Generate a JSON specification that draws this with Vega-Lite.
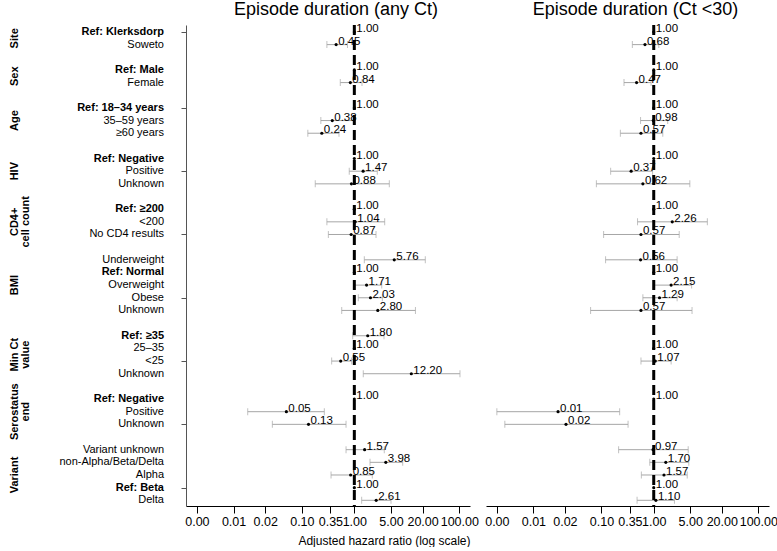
{
  "$schema": "https://vega.github.io/schema/vega-lite/v6.json",
  "padding": 0,
  "background": "white",
  "spacing": 16,
  "bounds": "flush",
  "config": {
    "view": {"stroke": null},
    "font": "Liberation Sans",
    "title": {"font": "Liberation Sans", "fontSize": 18, "fontWeight": "normal", "offset": 4, "dx": 8, "color": "black"},
    "axis": {"labelFont": "Liberation Sans", "labelFontSize": 12.5, "labelColor": "black", "domainColor": "black", "tickColor": "black", "grid": false, "titleFont": "Liberation Sans", "titleFontWeight": "normal", "titleColor": "black", "titleFontSize": 12, "labelOverlap": false, "labelBound": false, "labelFlush": false}
  },
  "data": {"values": [
    {"row": 0, "group": "Site", "label": "Ref: Klerksdorp", "hr1": 1, "lo1": null, "hi1": null, "hr2": 1, "lo2": null, "hi2": null},
    {"row": 1, "group": "Site", "label": "Soweto", "hr1": 0.45, "lo1": 0.30, "hi1": 0.74, "hr2": 0.68, "lo2": 0.39, "hi2": 1.25},
    {"row": 3, "group": "Sex", "label": "Ref: Male", "hr1": 1, "lo1": null, "hi1": null, "hr2": 1, "lo2": null, "hi2": null},
    {"row": 4, "group": "Sex", "label": "Female", "hr1": 0.84, "lo1": 0.54, "hi1": 1.40, "hr2": 0.47, "lo2": 0.27, "hi2": 0.89},
    {"row": 6, "group": "Age", "label": "Ref: 18–34 years", "hr1": 1, "lo1": null, "hi1": null, "hr2": 1, "lo2": null, "hi2": null},
    {"row": 7, "group": "Age", "label": "35–59 years", "hr1": 0.38, "lo1": 0.23, "hi1": 0.96, "hr2": 0.98, "lo2": 0.56, "hi2": 1.85},
    {"row": 8, "group": "Age", "label": "≥60 years", "hr1": 0.24, "lo1": 0.13, "hi1": 0.51, "hr2": 0.57, "lo2": 0.23, "hi2": 1.49},
    {"row": 10, "group": "HIV", "label": "Ref: Negative", "hr1": 1, "lo1": null, "hi1": null, "hr2": 1, "lo2": null, "hi2": null},
    {"row": 11, "group": "HIV", "label": "Positive", "hr1": 1.47, "lo1": 0.80, "hi1": 2.74, "hr2": 0.37, "lo2": 0.15, "hi2": 0.95},
    {"row": 12, "group": "HIV", "label": "Unknown", "hr1": 0.88, "lo1": 0.18, "hi1": 4.64, "hr2": 0.62, "lo2": 0.08, "hi2": 4.9},
    {"row": 14, "group": "CD4+\ncell count", "label": "Ref: ≥200", "hr1": 1, "lo1": null, "hi1": null, "hr2": 1, "lo2": null, "hi2": null},
    {"row": 15, "group": "CD4+\ncell count", "label": "<200", "hr1": 1.04, "lo1": 0.30, "hi1": 3.79, "hr2": 2.26, "lo2": 0.49, "hi2": 10.6},
    {"row": 16, "group": "CD4+\ncell count", "label": "No CD4 results", "hr1": 0.87, "lo1": 0.32, "hi1": 2.59, "hr2": 0.57, "lo2": 0.11, "hi2": 3.07},
    {"row": 18, "group": "BMI", "label": "Underweight", "hr1": 5.76, "lo1": 1.55, "hi1": 22.5, "hr2": 0.56, "lo2": 0.12, "hi2": 2.8},
    {"row": 19, "group": "BMI", "label": "Ref: Normal", "hr1": 1, "lo1": null, "hi1": null, "hr2": 1, "lo2": null, "hi2": null},
    {"row": 20, "group": "BMI", "label": "Overweight", "hr1": 1.71, "lo1": 1.0, "hi1": 3.33, "hr2": 2.15, "lo2": 1.04, "hi2": 5.3},
    {"row": 21, "group": "BMI", "label": "Obese", "hr1": 2.03, "lo1": 1.19, "hi1": 3.42, "hr2": 1.29, "lo2": 0.62, "hi2": 2.8},
    {"row": 22, "group": "BMI", "label": "Unknown", "hr1": 2.80, "lo1": 0.575, "hi1": 14.6, "hr2": 0.57, "lo2": 0.062, "hi2": 5.4},
    {"row": 24, "group": "Min Ct\nvalue", "label": "Ref: ≥35", "hr1": 1.80, "lo1": 0.93, "hi1": 3.68, "hr2": null, "lo2": null, "hi2": null},
    {"row": 25, "group": "Min Ct\nvalue", "label": "25–35", "hr1": 1, "lo1": null, "hi1": null, "hr2": 1, "lo2": null, "hi2": null},
    {"row": 26, "group": "Min Ct\nvalue", "label": "<25", "hr1": 0.55, "lo1": 0.37, "hi1": 0.89, "hr2": 1.07, "lo2": 0.57, "hi2": 2.15},
    {"row": 27, "group": "Min Ct\nvalue", "label": "Unknown", "hr1": 12.2, "lo1": 1.48, "hi1": 103, "hr2": null, "lo2": null, "hi2": null},
    {"row": 29, "group": "Serostatus\nend", "label": "Ref: Negative", "hr1": 1, "lo1": null, "hi1": null, "hr2": 1, "lo2": null, "hi2": null},
    {"row": 30, "group": "Serostatus\nend", "label": "Positive", "hr1": 0.0507, "lo1": 0.0093, "hi1": 0.268, "hr2": 0.0148, "lo2": 0.001, "hi2": 0.223},
    {"row": 31, "group": "Serostatus\nend", "label": "Unknown", "hr1": 0.134, "lo1": 0.0274, "hi1": 0.695, "hr2": 0.021, "lo2": 0.00142, "hi2": 0.323},
    {"row": 33, "group": "Variant", "label": "Variant unknown", "hr1": 1.57, "lo1": 0.695, "hi1": 3.72, "hr2": 0.97, "lo2": 0.213, "hi2": 4.56},
    {"row": 34, "group": "Variant", "label": "non-Alpha/Beta/Delta", "hr1": 3.98, "lo1": 1.99, "hi1": 8.35, "hr2": 1.70, "lo2": 0.84, "hi2": 4.68},
    {"row": 35, "group": "Variant", "label": "Alpha", "hr1": 0.85, "lo1": 0.36, "hi1": 2.2, "hr2": 1.57, "lo2": 0.58, "hi2": 4.37},
    {"row": 36, "group": "Variant", "label": "Ref: Beta", "hr1": 1, "lo1": null, "hi1": null, "hr2": 1, "lo2": null, "hi2": null},
    {"row": 37, "group": "Variant", "label": "Delta", "hr1": 2.61, "lo1": 1.38, "hi1": 5.0, "hr2": 1.10, "lo2": 0.48, "hi2": 2.49}
  ]},
  "hconcat": [
    {
      "width": 170,
      "height": 481,
      "layer": [
        {
          "transform": [{"aggregate": [{"op": "mean", "field": "row", "as": "mid"}], "groupby": ["group"]}],
          "mark": {"type": "text", "angle": 270, "fontWeight": "bold", "fontSize": 11, "align": "center", "baseline": "middle", "lineBreak": "\n", "lineHeight": 11, "color": "black"},
          "encoding": {
            "x": {"datum": 14.5, "type": "quantitative", "scale": {"domain": [0, 170], "nice": false, "zero": false}, "axis": null},
            "y": {"field": "mid", "type": "quantitative", "scale": {"domain": [-0.55, 37.45], "reverse": true, "nice": false, "zero": false}, "axis": null},
            "text": {"field": "group"}
          }
        },
        {
          "transform": [{"filter": "indexof(datum.label, 'Ref:') === 0"}],
          "mark": {"type": "text", "align": "right", "baseline": "middle", "fontSize": 11, "fontWeight": "bold", "color": "black"},
          "encoding": {
            "x": {"datum": 164, "type": "quantitative", "scale": {"domain": [0, 170], "nice": false, "zero": false}, "axis": null},
            "y": {"field": "row", "type": "quantitative", "scale": {"domain": [-0.55, 37.45], "reverse": true, "nice": false, "zero": false}, "axis": null},
            "text": {"field": "label"}
          }
        },
        {
          "transform": [{"filter": "indexof(datum.label, 'Ref:') !== 0"}],
          "mark": {"type": "text", "align": "right", "baseline": "middle", "fontSize": 11, "fontWeight": "normal", "color": "black"},
          "encoding": {
            "x": {"datum": 164, "type": "quantitative", "scale": {"domain": [0, 170], "nice": false, "zero": false}, "axis": null},
            "y": {"field": "row", "type": "quantitative", "scale": {"domain": [-0.55, 37.45], "reverse": true, "nice": false, "zero": false}, "axis": null},
            "text": {"field": "label"}
          }
        }
      ]
    },
    {
      "width": 284,
      "height": 481,
      "title": {"text": "Episode duration (any Ct)"},
      "layer": [
        {
          "mark": {"type": "rule", "color": "#a6a6a6", "strokeWidth": 1},
          "encoding": {
            "x": {"field": "lo1", "type": "quantitative", "scale": {"type": "log", "domain": [0.00062, 160], "nice": false, "zero": false},
                  "axis": {"values": [0.001, 0.005, 0.02, 0.1, 0.35, 1, 5, 20, 100], "format": ".2f", "tickSize": 7, "labelPadding": 2, "title": "Adjusted hazard ratio (log scale)", "titleAnchor": "end", "titlePadding": 8}},
            "x2": {"field": "hi1"},
            "y": {"field": "row", "type": "quantitative", "scale": {"domain": [-0.55, 37.45], "reverse": true, "nice": false, "zero": false},
                  "axis": {"values": [0, 1, 3, 4, 6, 7, 8, 10, 11, 12, 14, 15, 16, 18, 19, 20, 21, 22, 24, 25, 26, 27, 29, 30, 31, 33, 34, 35, 36, 37], "labels": false, "tickSize": 5, "title": null, "domainColor": "#555555", "tickColor": "#555555"}}
          }
        },
        {
          "mark": {"type": "tick", "orient": "vertical", "color": "#a6a6a6", "size": 7, "thickness": 1},
          "encoding": {
            "x": {"field": "lo1", "type": "quantitative", "scale": {"type": "log", "domain": [0.00062, 160], "nice": false, "zero": false}},
            "y": {"field": "row", "type": "quantitative", "scale": {"domain": [-0.55, 37.45], "reverse": true, "nice": false, "zero": false}}
          }
        },
        {
          "mark": {"type": "tick", "orient": "vertical", "color": "#a6a6a6", "size": 7, "thickness": 1},
          "encoding": {
            "x": {"field": "hi1", "type": "quantitative", "scale": {"type": "log", "domain": [0.00062, 160], "nice": false, "zero": false}},
            "y": {"field": "row", "type": "quantitative", "scale": {"domain": [-0.55, 37.45], "reverse": true, "nice": false, "zero": false}}
          }
        },
        {
          "mark": {"type": "point", "filled": true, "color": "black", "size": 10, "opacity": 1},
          "encoding": {
            "x": {"field": "hr1", "type": "quantitative", "scale": {"type": "log", "domain": [0.00062, 160], "nice": false, "zero": false}},
            "y": {"field": "row", "type": "quantitative", "scale": {"domain": [-0.55, 37.45], "reverse": true, "nice": false, "zero": false}}
          }
        },
        {
          "mark": {"type": "text", "align": "left", "baseline": "alphabetic", "dx": 2, "fontSize": 11.5, "color": "black"},
          "encoding": {
            "x": {"field": "hr1", "type": "quantitative", "scale": {"type": "log", "domain": [0.00062, 160], "nice": false, "zero": false}},
            "y": {"field": "row", "type": "quantitative", "scale": {"domain": [-0.55, 37.45], "reverse": true, "nice": false, "zero": false}},
            "text": {"field": "hr1", "type": "quantitative", "format": ".2f"}
          }
        },
        {
          "data": {"values": [{"ref": 1}]},
          "mark": {"type": "rule", "color": "black", "strokeWidth": 3, "strokeDash": [10, 5]},
          "encoding": {
            "x": {"field": "ref", "type": "quantitative", "scale": {"type": "log", "domain": [0.00062, 160], "nice": false, "zero": false}}
          }
        }
      ]
    },
    {
      "width": 283,
      "height": 481,
      "title": {"text": "Episode duration (Ct <30)"},
      "layer": [
        {
          "mark": {"type": "rule", "color": "#a6a6a6", "strokeWidth": 1},
          "encoding": {
            "x": {"field": "lo2", "type": "quantitative", "scale": {"type": "log", "domain": [0.00062, 160], "nice": false, "zero": false},
                  "axis": {"values": [0.001, 0.005, 0.02, 0.1, 0.35, 1, 5, 20, 100], "format": ".2f", "tickSize": 7, "labelPadding": 2, "title": null}},
            "x2": {"field": "hi2"},
            "y": {"field": "row", "type": "quantitative", "scale": {"domain": [-0.55, 37.45], "reverse": true, "nice": false, "zero": false}, "axis": null}
          }
        },
        {
          "mark": {"type": "tick", "orient": "vertical", "color": "#a6a6a6", "size": 7, "thickness": 1},
          "encoding": {
            "x": {"field": "lo2", "type": "quantitative", "scale": {"type": "log", "domain": [0.00062, 160], "nice": false, "zero": false}},
            "y": {"field": "row", "type": "quantitative", "scale": {"domain": [-0.55, 37.45], "reverse": true, "nice": false, "zero": false}, "axis": null}
          }
        },
        {
          "mark": {"type": "tick", "orient": "vertical", "color": "#a6a6a6", "size": 7, "thickness": 1},
          "encoding": {
            "x": {"field": "hi2", "type": "quantitative", "scale": {"type": "log", "domain": [0.00062, 160], "nice": false, "zero": false}},
            "y": {"field": "row", "type": "quantitative", "scale": {"domain": [-0.55, 37.45], "reverse": true, "nice": false, "zero": false}, "axis": null}
          }
        },
        {
          "mark": {"type": "point", "filled": true, "color": "black", "size": 10, "opacity": 1},
          "encoding": {
            "x": {"field": "hr2", "type": "quantitative", "scale": {"type": "log", "domain": [0.00062, 160], "nice": false, "zero": false}},
            "y": {"field": "row", "type": "quantitative", "scale": {"domain": [-0.55, 37.45], "reverse": true, "nice": false, "zero": false}, "axis": null}
          }
        },
        {
          "mark": {"type": "text", "align": "left", "baseline": "alphabetic", "dx": 2, "fontSize": 11.5, "color": "black"},
          "encoding": {
            "x": {"field": "hr2", "type": "quantitative", "scale": {"type": "log", "domain": [0.00062, 160], "nice": false, "zero": false}},
            "y": {"field": "row", "type": "quantitative", "scale": {"domain": [-0.55, 37.45], "reverse": true, "nice": false, "zero": false}, "axis": null},
            "text": {"field": "hr2", "type": "quantitative", "format": ".2f"}
          }
        },
        {
          "data": {"values": [{"ref": 1}]},
          "mark": {"type": "rule", "color": "black", "strokeWidth": 3, "strokeDash": [10, 5]},
          "encoding": {
            "x": {"field": "ref", "type": "quantitative", "scale": {"type": "log", "domain": [0.00062, 160], "nice": false, "zero": false}}
          }
        }
      ]
    }
  ]
}
